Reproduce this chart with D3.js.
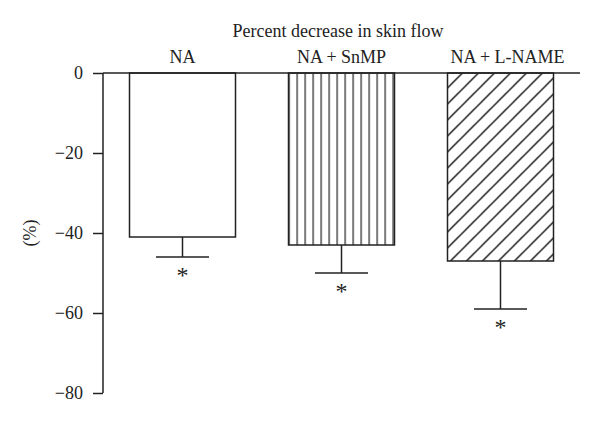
<!DOCTYPE html>
<html>
<head>
<meta charset="utf-8">
<script src="https://cdn.jsdelivr.net/npm/d3@7"></script>
<style>
  body { margin: 0; background: #fff; }
  text { font-family: "Liberation Serif", "DejaVu Serif", serif; fill: #222; }
</style>
</head>
<body>
<div id="chart"></div>
<script>
const categories = ['NA', 'NA + SnMP', 'NA + L-NAME'];
const means = [-41, -43, -47];
const errors = [5, 7, 12];
const fills = ['none', 'vert', 'diag'];
const yTicks = [0, -20, -40, -60, -80];

const width = 600, height = 436;
const ink = '#222';

const svg = d3.select('#chart')
  .append('svg')
  .attr('width', width)
  .attr('height', height);

const x = d3.scaleBand()
  .domain(categories)
  .range([103, 580])
  .paddingInner(1 / 3)
  .paddingOuter(1 / 6);

const y = d3.scaleLinear()
  .domain([-80, 0])
  .range([393, 73]);

// hatch patterns
const defs = svg.append('defs');

defs.append('pattern')
  .attr('id', 'vert')
  .attr('patternUnits', 'userSpaceOnUse')
  .attr('x', x(categories[1]))
  .attr('y', 0)
  .attr('width', 8)
  .attr('height', 8)
  .append('line')
  .attr('x1', 0).attr('y1', 0)
  .attr('x2', 0).attr('y2', 8)
  .attr('stroke', ink)
  .attr('stroke-width', 2.4);

defs.append('pattern')
  .attr('id', 'diag')
  .attr('patternUnits', 'userSpaceOnUse')
  .attr('x', x(categories[2]) + 3)
  .attr('y', y(means[2]))
  .attr('width', 16)
  .attr('height', 16)
  .append('path')
  .attr('d', 'M0,16L16,0M-4,4L4,-4M12,20L20,12')
  .attr('stroke', '#111')
  .attr('stroke-width', 1.4);

// bars
svg.selectAll('rect.bar')
  .data(categories)
  .enter()
  .append('rect')
  .attr('class', 'bar')
  .attr('x', d => x(d))
  .attr('y', y(0))
  .attr('width', x.bandwidth())
  .attr('height', (d, i) => y(means[i]) - y(0))
  .attr('fill', (d, i) => fills[i] === 'none' ? '#fff' : 'url(#' + fills[i] + ')')
  .attr('stroke', ink)
  .attr('stroke-width', 1.5);

// error bars
const cx = d => x(d) + x.bandwidth() / 2;
const capW = x.bandwidth() / 2;

svg.selectAll('line.err')
  .data(categories)
  .enter()
  .append('line')
  .attr('x1', cx).attr('x2', cx)
  .attr('y1', (d, i) => y(means[i]))
  .attr('y2', (d, i) => y(means[i] - errors[i]))
  .attr('stroke', ink)
  .attr('stroke-width', 1.5);

svg.selectAll('line.cap')
  .data(categories)
  .enter()
  .append('line')
  .attr('x1', d => cx(d) - capW / 2)
  .attr('x2', d => cx(d) + capW / 2)
  .attr('y1', (d, i) => y(means[i] - errors[i]))
  .attr('y2', (d, i) => y(means[i] - errors[i]))
  .attr('stroke', ink)
  .attr('stroke-width', 1.5);

svg.selectAll('text.star')
  .data(categories)
  .enter()
  .append('text')
  .attr('x', cx)
  .attr('y', (d, i) => y(means[i] - errors[i]) + 26)
  .attr('text-anchor', 'middle')
  .attr('font-size', '24px')
  .text('*');

// y axis
const yAxis = svg.append('g')
  .attr('transform', 'translate(103,0)')
  .call(d3.axisLeft(y)
    .tickValues(yTicks)
    .tickSize(10)
    .tickPadding(10)
    .tickFormat(d => d === 0 ? '0' : '\u2212' + Math.abs(d)));

yAxis.select('.domain').remove();
yAxis.append('line')
  .attr('x1', 0).attr('x2', 0)
  .attr('y1', y(0)).attr('y2', y(-80))
  .attr('stroke', ink)
  .attr('stroke-width', 1.5);
yAxis.selectAll('.tick line').attr('stroke', ink).attr('stroke-width', 1.5);
yAxis.selectAll('.tick text')
  .attr('font-size', '18px')
  .attr('font-family', '"Liberation Serif", serif')
  .attr('fill', ink);

// zero baseline across the chart
svg.append('line')
  .attr('x1', 103).attr('x2', 580)
  .attr('y1', y(0)).attr('y2', y(0))
  .attr('stroke', ink)
  .attr('stroke-width', 1.5);

// category labels on top (last one sits a little right of its bar)
svg.selectAll('text.cat')
  .data(categories)
  .enter()
  .append('text')
  .attr('x', (d, i) => cx(d) + (i === 2 ? 7 : 0))
  .attr('y', 63)
  .attr('text-anchor', 'middle')
  .attr('font-size', '18px')
  .text(d => d);

svg.append('text')
  .attr('x', 338)
  .attr('y', 37)
  .attr('text-anchor', 'middle')
  .attr('font-size', '18px')
  .text('Percent decrease in skin flow');

svg.append('text')
  .attr('transform', 'translate(36,' + y(-40) + ') rotate(-90)')
  .attr('text-anchor', 'middle')
  .attr('font-size', '18px')
  .text('(%)');
</script>
</body>
</html>
